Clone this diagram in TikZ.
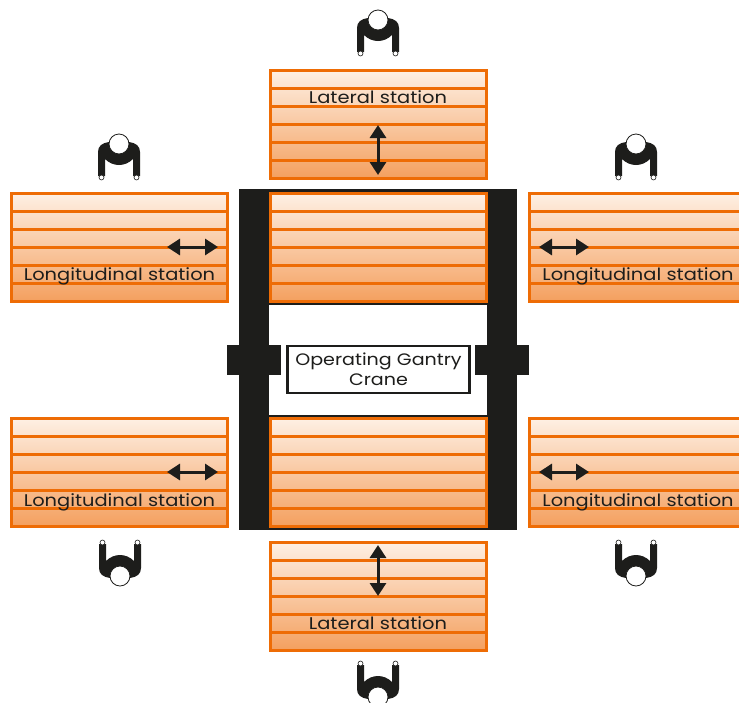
\documentclass[tikz,border=0pt]{standalone}
\usepackage{fontspec}
\setmainfont[FakeStretch=1.15]{Poppins}
\usetikzlibrary{arrows.meta}
\definecolor{stripe}{HTML}{EE6C05}
\definecolor{dark}{HTML}{1D1D1B}
\definecolor{stationend}{HTML}{F4A05F}
\definecolor{stationtop}{HTML}{FEF0E4}
\tikzset{
    stationbox/.style={draw=stripe, line width=3pt, top color=stationtop, bottom color=stationend},
    stationtext/.style={text=dark, font=\fontsize{16.9}{20}\selectfont, inner sep=0pt},
    motion/.style={{Triangle[length=13pt,width=16pt]}-{Triangle[length=13pt,width=16pt]}, line width=3pt, draw=dark},
    person/.pic={
        \fill[dark] (-21,32) -- (-21,8) .. controls (-21,2) and (-17,-1) .. (-10,-2) -- (10,-2)
            .. controls (17,-1) and (21,2) .. (21,8) -- (21,32) -- (14,32) -- (14,15)
            .. controls (10,19) and (5,21) .. (0,21) .. controls (-5,21) and (-10,19) .. (-14,15)
            -- (-14,32) -- cycle;
        \draw[dark, fill=white, line width=0.8pt] (0,0) circle (10);
        \draw[dark, fill=white, line width=0.6pt] (-17.5,33.5) circle (2.5);
        \draw[dark, fill=white, line width=0.6pt] (17.5,33.5) circle (2.5);
    }
}
% one station: six stripes, #1 and #2 are the top left corner
\newcommand{\stationrows}[2]{
    \draw[stationbox] (#1,#2) rectangle ++(216,108);
    \foreach \row in {1,...,5} {
        \draw[stripe, line width=3pt] (#1,#2+18*\row) -- ++(216,0);
    }
}
\begin{document}
\begin{tikzpicture}[x=1pt, y=-1pt]
    \useasboundingbox (0,0) rectangle (739,702);
    \clip (0,0) rectangle (739,702);

    % gantry
    \fill[dark] (239,189) rectangle (269,530);
    \fill[dark] (487,189) rectangle (517,530);
    \fill[dark] (269,189) rectangle (487,305);
    \fill[dark] (269,415) rectangle (487,530);
    \fill[dark] (227,345) rectangle (281,375);
    \fill[dark] (475,345) rectangle (529,375);

    % stations
    \stationrows{270}{70}
    \stationrows{270}{193.5}
    \stationrows{270}{418}
    \stationrows{270}{542}
    \stationrows{11}{193}
    \stationrows{11}{418}
    \stationrows{529}{193}
    \stationrows{529}{418}

    % labels
    \node[stationtext] (lateralTop) at (378,97.5) {Lateral station};
    \node[stationtext] (lateralBot) at (378,623.5) {Lateral station};
    \node[stationtext] (longLeftTop) at (119.5,276) {Longitudinal station};
    \node[stationtext] (longRightTop) at (638,276) {Longitudinal station};
    \node[stationtext] (longLeftBot) at (119.5,502) {Longitudinal station};
    \node[stationtext] (longRightBot) at (638,502) {Longitudinal station};
    \node[draw=dark, line width=2.6pt, fill=white, minimum width=182pt, minimum height=47pt,
        align=center, text=dark, font=\fontsize{16.6}{19.5}\selectfont, inner sep=0pt] (crane) at (378.5,369.5)
        {Operating Gantry\\Crane};

    % motions
    \coordinate (latTopA) at (378,125);
    \coordinate (latTopB) at (378,175);
    \coordinate (latBotA) at (378,545);
    \coordinate (latBotB) at (378,596);
    \coordinate (leftTopA) at (167,247);
    \coordinate (leftTopB) at (218,247);
    \coordinate (leftBotA) at (167,472);
    \coordinate (leftBotB) at (218,472);
    \coordinate (rightTopA) at (539,247);
    \coordinate (rightTopB) at (589,247);
    \coordinate (rightBotA) at (539,472);
    \coordinate (rightBotB) at (589,472);
    \draw[motion] (latTopA) -- (latTopB);
    \draw[motion] (latBotA) -- (latBotB);
    \draw[motion] (leftTopA) -- (leftTopB);
    \draw[motion] (leftBotA) -- (leftBotB);
    \draw[motion] (rightTopA) -- (rightTopB);
    \draw[motion] (rightBotA) -- (rightBotB);

    % operators
    \pic at (378,20) {person};
    \pic at (119,144) {person};
    \pic at (636,144) {person};
    \pic[yscale=-1] at (120,576) {person};
    \pic[yscale=-1] at (636,576) {person};
    \pic[yscale=-1] at (378,697) {person};
\end{tikzpicture}
\end{document}
